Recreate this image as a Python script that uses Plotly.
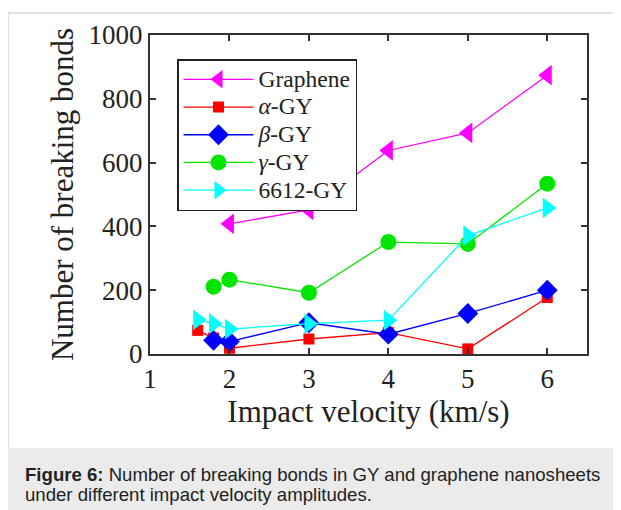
import plotly.graph_objects as go

# ---- data ----
graphene_x = [2, 3, 4, 5, 6]
graphene_y = [408, 452, 638, 693, 874]
alpha_x = [1.6, 1.8, 2, 3, 4, 5, 6]
alpha_y = [74, 50, 18, 47, 67, 16, 177]
beta_x = [1.8, 2, 3, 4, 5, 6]
beta_y = [43, 39, 98, 62, 127, 200]
gamma_x = [1.8, 2, 3, 4, 5, 6]
gamma_y = [211, 233, 192, 351, 345, 534]
gy6612_x = [1.6, 1.8, 2, 3, 4, 5, 6]
gy6612_y = [107, 95, 78, 95, 106, 371, 458]

x_ticks = [1, 2, 3, 4, 5, 6]
y_ticks = [0, 200, 400, 600, 800, 1000]

OFF = 8  # default page body margin
W, H = 621 - OFF, 510 - OFF
L, R, T, B = 150 - OFF, 587 - OFF, 35 - OFF, 354 - OFF


def px(xp):
    return (xp - OFF - L) / (R - L)


def py(yp):
    return (B - (yp - OFF)) / (B - T)


def big(s):
    return '<span style="font-size:23.5px">' + s + '</span>'


series = [
    ("Graphene", graphene_x, graphene_y, "#ff00ff", "triangle-left", 18),
    ("<i>α</i>-GY", alpha_x, alpha_y, "#ff0000", "square", 11),
    ("<i>β</i>-GY", beta_x, beta_y, "#0000ff", "diamond", 16),
    ("<i>γ</i>-GY", gamma_x, gamma_y, "#00e600", "circle", 16),
    ("6612-GY", gy6612_x, gy6612_y, "#00ffff", "triangle-right", 18),
]

fig = go.Figure()
for name, xs, ys, col, sym, sz in series:
    fig.add_trace(go.Scatter(
        x=xs, y=ys, name=big(name), mode="lines+markers",
        line=dict(color=col, width=1.3),
        marker=dict(symbol=sym, size=sz, color=col, line=dict(width=0)),
    ))

axis_font = dict(family="Liberation Serif", size=27, color="#222222")
title_font = dict(family="Liberation Serif", size=31, color="#222222")
fig.update_xaxes(
    range=[1, 6.5], tickvals=x_ticks, ticks="inside", ticklen=6, tickwidth=1.5,
    tickcolor="#333333", showline=True, linewidth=2, linecolor="#333333",
    mirror="ticks", showgrid=False, zeroline=False, tickfont=axis_font,
    title=dict(text="Impact velocity (km/s)", font=title_font, standoff=4),
)
fig.update_yaxes(
    range=[0, 1000], tickvals=y_ticks, ticks="inside", ticklen=6, tickwidth=1.5,
    tickcolor="#333333", showline=True, linewidth=2, linecolor="#333333",
    mirror="ticks", showgrid=False, zeroline=False, tickfont=axis_font,
    title=dict(text="Number of breaking bonds", font=title_font, standoff=6),
)

# page border and caption box
fig.add_shape(type="line", xref="paper", yref="paper", x0=px(8), x1=px(630), y0=py(13), y1=py(13),
              line=dict(color="#d9d9d9", width=1.5), layer="below")
fig.add_shape(type="line", xref="paper", yref="paper", x0=px(8), x1=px(8), y0=py(13), y1=py(520),
              line=dict(color="#d9d9d9", width=1.5), layer="below")
fig.add_shape(type="rect", xref="paper", yref="paper", x0=px(8), x1=px(630), y0=py(448), y1=py(520),
              fillcolor="#ebebeb", line=dict(width=0), layer="below")

cap_font = dict(family="Liberation Sans", size=18.6, color="#222222")
fig.add_annotation(xref="paper", yref="paper", x=px(23), y=py(474), xanchor="left", yanchor="middle",
                   text="<b>Figure 6:</b> Number of breaking bonds in GY and graphene nanosheets",
                   showarrow=False, font=cap_font, align="left")
fig.add_annotation(xref="paper", yref="paper", x=px(23), y=py(494), xanchor="left", yanchor="middle",
                   text="under different impact velocity amplitudes.",
                   showarrow=False, font=cap_font, align="left")

fig.update_layout(
    width=W, height=H,
    margin=dict(l=L, r=W - R, t=T, b=H - B),
    paper_bgcolor="white", plot_bgcolor="white",
    legend=dict(
        x=px(177), y=py(59), xanchor="left", yanchor="top",
        bordercolor="#222222", borderwidth=1.5, bgcolor="white",
        font=dict(family="Liberation Serif", size=19, color="#222222"),
        itemwidth=70, tracegroupgap=0,
    ),
    showlegend=True,
)

fig.write_html("out.html")
